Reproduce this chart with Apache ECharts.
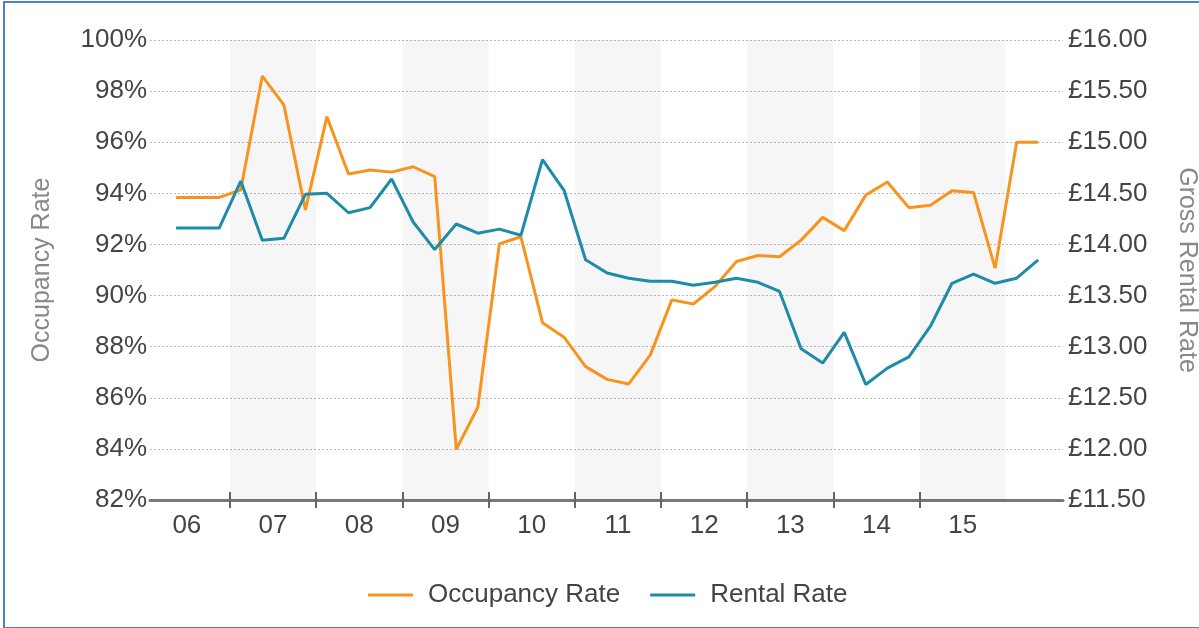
<!DOCTYPE html>
<html>
<head>
<meta charset="utf-8">
<script src="https://cdn.jsdelivr.net/npm/echarts@6/dist/echarts.min.js"></script>
<style>
html,body{margin:0;padding:0;background:#fff;overflow:hidden;width:1199px;height:628px;}
#frame{position:absolute;left:3px;top:1px;width:1194px;height:624px;border-top:2px solid #4f81c7;border-left:2px solid #4f81c7;border-bottom:1px solid #4f81c7;}
#chart{position:absolute;left:0;top:0;width:1199px;height:628px;}
</style>
</head>
<body>
<div id="frame"></div>
<div id="chart"></div>
<script>
// Year labels (each year = 4 quarters), first year 2006
const yearLabels = ['06','07','08','09','10','11','12','13','14','15'];
// Quarter index of the first data point (0 = 2006 Q1)
const firstQuarter = 1;
// Occupancy rate (%), quarterly from 2006 Q2 to 2016 Q2
const occupancy = [93.84, 93.84, 93.84, 94.13, 98.59, 97.46, 93.35, 97.0, 94.76, 94.91,
  94.83, 95.04, 94.65, 83.98, 85.63, 92.02, 92.30, 88.94, 88.37, 87.22,
  86.72, 86.54, 87.67, 89.83, 89.67, 90.35, 91.33, 91.57, 91.52, 92.17,
  93.06, 92.54, 93.93, 94.44, 93.44, 93.53, 94.10, 94.03, 91.07, 96.0, 96.0];
// Gross rental rate (£), quarterly from 2006 Q2 to 2016 Q2
const rental = [14.16, 14.16, 14.16, 14.62, 14.04, 14.06, 14.49, 14.50, 14.31, 14.36,
  14.64, 14.22, 13.95, 14.20, 14.11, 14.15, 14.09, 14.83, 14.53, 13.85,
  13.72, 13.67, 13.64, 13.64, 13.60, 13.63, 13.67, 13.63, 13.54, 12.98,
  12.84, 13.14, 12.63, 12.79, 12.90, 13.20, 13.62, 13.71, 13.62, 13.67, 13.85];
// Left axis ticks
const occTicks = [82, 84, 86, 88, 90, 92, 94, 96, 98, 100];
// Right axis ticks
const rentTicks = [11.5, 12, 12.5, 13, 13.5, 14, 14.5, 15, 15.5, 16];

const ORANGE = '#F7941E';
const TEAL = '#1E8BA8';
const FONT = 'Liberation Sans, Arial, sans-serif';

const occData = occupancy.map((v, i) => [firstQuarter + i + 0.5, v]);
const rentData = rental.map((v, i) => [firstQuarter + i + 0.5, v]);
const yearBoundaries = yearLabels.slice(1).map((_, i) => (i + 1) * 4);
const yearCenters = yearLabels.map((_, i) => i * 4 + 2);
const bands = [];
yearLabels.forEach((_, i) => { if (i % 2 === 1) bands.push([{xAxis: i * 4}, {xAxis: i * 4 + 4}]); });

const X_MIN = 0.29, X_MAX = 42.65;

const chart = echarts.init(document.getElementById('chart'), null, {renderer: 'canvas'});
chart.setOption({
  animation: false,
  textStyle: {fontFamily: FONT},
  grid: {left: 150, right: 136, top: 40, bottom: 128, containLabel: false, outerBoundsMode: 'none'},
  legend: {
    bottom: 15, left: 363,
    icon: 'rect', itemWidth: 45, itemHeight: 3, itemGap: 30,
    textStyle: {fontSize: 26, color: '#444', fontFamily: FONT, padding: [0, 0, 0, 10]},
    data: ['Occupancy Rate', 'Rental Rate']
  },
  xAxis: [
    {
      type: 'value', min: X_MIN, max: X_MAX,
      axisLine: {show: true, lineStyle: {color: '#777', width: 3}},
      axisTick: {show: true, customValues: yearBoundaries, length: 8, inside: false, lineStyle: {color: '#666', width: 2}},
      axisLabel: {
        show: true, customValues: yearCenters, fontSize: 26, color: '#444', margin: 13,
        formatter: v => yearLabels[Math.round((v - 2) / 4)] || ''
      },
      splitLine: {show: false}
    },
    {
      type: 'value', min: X_MIN, max: X_MAX, position: 'bottom',
      axisLine: {show: false},
      axisTick: {show: true, customValues: yearBoundaries, length: 8, inside: true, lineStyle: {color: '#666', width: 2}},
      axisLabel: {show: false},
      splitLine: {show: false}
    }
  ],
  yAxis: [
    {
      type: 'value', min: occTicks[0], max: occTicks[occTicks.length - 1], interval: 2,
      name: 'Occupancy Rate', nameLocation: 'middle', nameGap: 95, nameRotate: 90,
      nameTextStyle: {fontSize: 25, color: '#888', fontFamily: FONT},
      axisLine: {show: false}, axisTick: {show: false},
      axisLabel: {fontSize: 26, color: '#444', margin: 3, formatter: v => v + '%'},
      splitLine: {show: true, lineStyle: {color: '#bbb', type: [2, 2], width: 1}}
    },
    {
      type: 'value', min: rentTicks[0], max: rentTicks[rentTicks.length - 1], interval: 0.5,
      name: 'Gross Rental Rate', nameLocation: 'middle', nameGap: 111, nameRotate: -90,
      nameTextStyle: {fontSize: 25, color: '#888', fontFamily: FONT},
      axisLine: {show: false}, axisTick: {show: false},
      axisLabel: {fontSize: 26, color: '#444', margin: 5, formatter: v => '£' + v.toFixed(2)},
      splitLine: {show: false}
    }
  ],
  series: [
    {
      name: 'Occupancy Rate', type: 'line', xAxisIndex: 0, yAxisIndex: 0, data: occData,
      showSymbol: false, symbol: 'none', color: ORANGE,
      lineStyle: {color: ORANGE, width: 3}, z: 3,
      markArea: {silent: true, itemStyle: {color: 'rgba(0,0,0,0.035)'}, data: bands}
    },
    {
      name: 'Rental Rate', type: 'line', xAxisIndex: 0, yAxisIndex: 1, data: rentData,
      showSymbol: false, symbol: 'none', color: TEAL,
      lineStyle: {color: TEAL, width: 3}, z: 4
    }
  ]
});
</script>
</body>
</html>
